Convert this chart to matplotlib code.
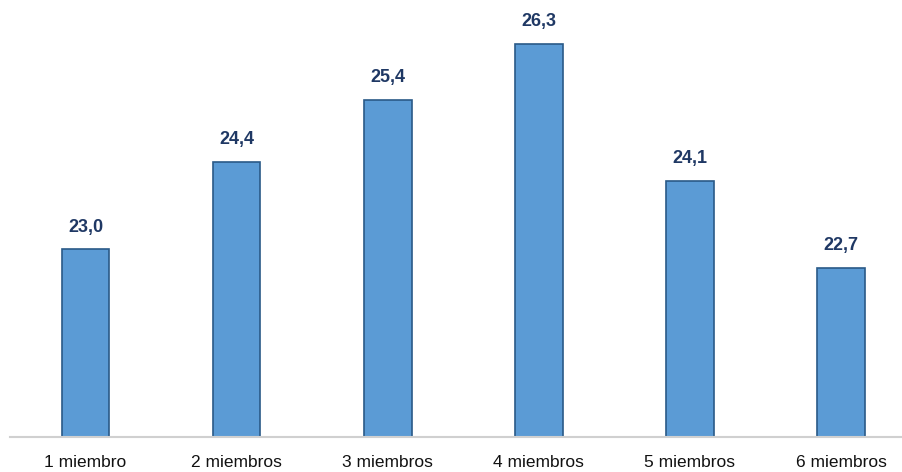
import matplotlib.pyplot as plt

# ----------------------------------------------------------------------
# Data
# ----------------------------------------------------------------------
categories = ["1 miembro", "2 miembros", "3 miembros",
              "4 miembros", "5 miembros", "6 miembros"]
values = [23.0, 24.4, 25.4, 26.3, 24.1, 22.7]

plt.rcParams['font.family'] = ['Liberation Sans', 'DejaVu Sans']

fig = plt.figure(figsize=(9.03, 4.72), dpi=100)
ax = fig.add_axes([10 / 903, 35.5 / 472, 893 / 903, 436.5 / 472])

x = range(len(categories))
bars = ax.bar(x, values, width=0.315, color="#5B9BD5",
              edgecolor="#2A5A88", linewidth=1.2, zorder=2)

for b, v in zip(bars, values):
    ax.annotate(f"{v:.1f}".replace(".", ","),
                (b.get_x() + b.get_width() / 2, v),
                xytext=(0, 10), textcoords="offset points",
                ha="center", va="bottom", fontsize=13,
                fontweight="bold", color="#1F3864")

ax.set_ylim(20, 27)
ax.set_xlim(-0.5, 5.41)
ax.set_xticks(list(x))
ax.set_xticklabels(categories, fontsize=12.5, color="#111111")
ax.tick_params(axis="x", length=0, pad=13)
ax.set_yticks([])

for side in ("top", "right", "left"):
    ax.spines[side].set_visible(False)
ax.spines["bottom"].set_color("#D0D0D0")
ax.spines["bottom"].set_linewidth(1.5)

fig.savefig("out.png", dpi=100)
